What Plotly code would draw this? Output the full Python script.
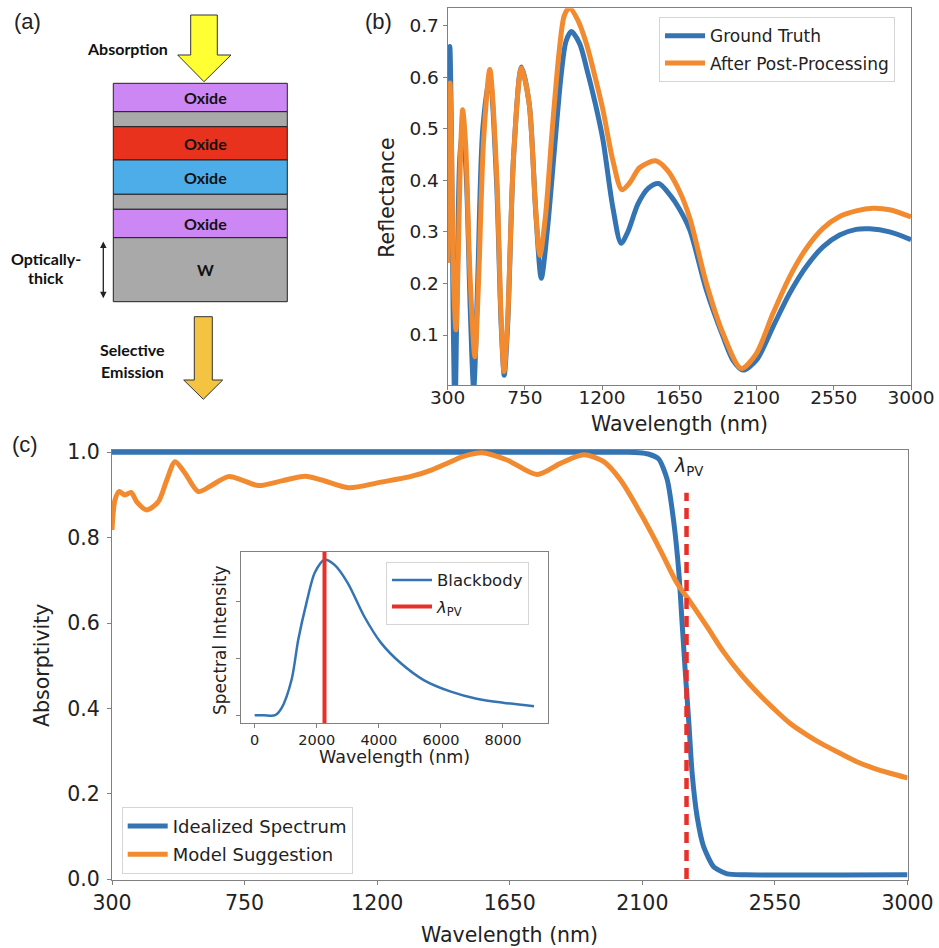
import plotly.graph_objects as go

W, H = 939, 948
def PX(x): return x / W
def PY(y): return 1 - y / H

# ---------------- data ----------------
# (b) reflectance
b_wl_gt = [300, 313, 322, 332, 343, 356, 372, 390, 410, 432, 452, 475, 505, 546, 585, 612, 630, 650, 685, 730,
           775, 815, 846, 880, 920, 960, 990, 1021, 1070, 1108, 1160, 1205, 1262, 1311, 1350, 1410, 1470,
           1530, 1600, 1650, 1711, 1808, 1905, 1963, 2021, 2099, 2196, 2293, 2390, 2487, 2584, 2681, 2759,
           2875, 3000]
b_gt = [0.50, 0.66, 0.50, 0.15, -0.05, 0.20, 0.45, 0.50, 0.40, 0.15, -0.005, 0.20, 0.50, 0.60, 0.40, 0.12, 0.022,
        0.12, 0.45, 0.62, 0.55, 0.33, 0.21, 0.30, 0.45, 0.60, 0.67, 0.689, 0.665, 0.62, 0.55, 0.479, 0.349,
        0.278, 0.30, 0.355, 0.385, 0.394, 0.37, 0.345, 0.304, 0.187, 0.097, 0.051, 0.032, 0.051, 0.116, 0.181,
        0.233, 0.271, 0.294, 0.305, 0.306, 0.300, 0.285]
b_wl_pp = [300, 307, 314, 322, 335, 349, 362, 375, 388, 405, 430, 459, 480, 510, 546, 585, 612, 629, 650, 685,
           730, 775, 810, 838, 870, 910, 950, 980, 1010, 1060, 1108, 1160, 1205, 1262, 1315, 1360, 1420, 1512,
           1580, 1650, 1711, 1808, 1905, 2011, 2099, 2196, 2293, 2390, 2487, 2584, 2681, 2778, 2875, 3000]
b_pp = [0.24, 0.45, 0.589, 0.48, 0.20, 0.11, 0.25, 0.45, 0.537, 0.47, 0.22, 0.058, 0.20, 0.48, 0.615, 0.42, 0.13,
        0.029, 0.13, 0.45, 0.618, 0.55, 0.36, 0.255, 0.33, 0.50, 0.65, 0.72, 0.735, 0.71, 0.666, 0.60, 0.537,
        0.44, 0.382, 0.395, 0.425, 0.438, 0.42, 0.38, 0.327, 0.200, 0.103, 0.035, 0.064, 0.142, 0.213, 0.268,
        0.307, 0.330, 0.341, 0.346, 0.343, 0.329]

# (c) absorptivity
c_wl_ideal = [300, 1000, 2050, 2090, 2120, 2156, 2184, 2207, 2224, 2235, 2246, 2258, 2269, 2286, 2308, 2342,
              2388, 2450, 3000]
c_ideal = [1.0, 1.0, 1.0, 0.999, 0.996, 0.984, 0.937, 0.835, 0.718, 0.600, 0.483, 0.365, 0.248, 0.146, 0.076,
           0.029, 0.012, 0.01, 0.01]
c_wl_model = [300, 310, 324, 344, 365, 384, 418, 457, 486, 514, 548, 593, 639, 695, 741, 797, 876, 956, 1012,
              1103, 1205, 1318, 1386, 1440, 1490, 1556, 1641, 1743, 1822, 1901, 1969, 2026, 2094, 2161, 2218,
              2262, 2319, 2375, 2432, 2488, 2545, 2601, 2658, 2714, 2771, 2828, 2884, 2941, 3000]
c_model = [0.818, 0.888, 0.908, 0.900, 0.906, 0.884, 0.865, 0.884, 0.935, 0.978, 0.951, 0.908, 0.923, 0.943,
           0.935, 0.922, 0.933, 0.944, 0.935, 0.917, 0.929, 0.944, 0.959, 0.975, 0.990, 0.999, 0.982, 0.948,
           0.974, 0.994, 0.978, 0.935, 0.857, 0.771, 0.693, 0.650, 0.592, 0.533, 0.482, 0.439, 0.400, 0.365,
           0.338, 0.315, 0.295, 0.275, 0.260, 0.248, 0.237]
lambda_pv = 2250
lambda_pv_top = 0.905

# inset blackbody (arbitrary units)
bb_wl = [0, 300, 658, 871, 1191, 1404, 1669, 1935, 2254, 2573, 3000, 3531, 4064, 4702, 5446, 6298, 7150, 8000, 9000]
bb_val = [0, 0, 0, 0.13, 0.63, 1.33, 1.98, 2.51, 2.74, 2.65, 2.33, 1.74, 1.28, 0.92, 0.62, 0.42, 0.29, 0.22, 0.16]

# (a) layer stack
layer_labels = ["Oxide", "", "Oxide", "Oxide", "", "Oxide", "W"]
layer_colors = ["#CD87F5", "#A9A9A9", "#E8321E", "#4DADE8", "#A9A9A9", "#CD87F5", "#A9A9A9"]
layer_thick = [28.4, 15, 33.3, 34.3, 15, 28.4, 64]

BLUE = "#3474b3"
ORANGE = "#f28a30"
RED = "#e8302a"
AX = "#808080"
TXT = "#222222"
FONT = "DejaVu Sans"
LPV = "<i>λ</i><sub>PV</sub>"

fig = go.Figure()

# ---------------- panel (b) ----------------
fig.add_trace(go.Scatter(x=b_wl_gt, y=b_gt, mode="lines", name="Ground Truth",
                         line=dict(color=BLUE, width=5, shape="spline", smoothing=0.8),
                         xaxis="x", yaxis="y", legend="legend", legendgroup="g1"))
fig.add_trace(go.Scatter(x=b_wl_pp, y=b_pp, mode="lines", name="After Post-Processing",
                         line=dict(color=ORANGE, width=5, shape="spline", smoothing=0.8),
                         xaxis="x", yaxis="y", legend="legend", legendgroup="g2"))

# ---------------- panel (c) ----------------
fig.add_trace(go.Scatter(x=c_wl_ideal, y=c_ideal, mode="lines", name="Idealized Spectrum",
                         line=dict(color=BLUE, width=5, shape="spline", smoothing=0.6),
                         xaxis="x2", yaxis="y2", legend="legend2", legendgroup="g3"))
fig.add_trace(go.Scatter(x=c_wl_model, y=c_model, mode="lines", name="Model Suggestion",
                         line=dict(color=ORANGE, width=5, shape="spline", smoothing=0.8),
                         xaxis="x2", yaxis="y2", legend="legend2", legendgroup="g4"))
fig.add_trace(go.Scatter(x=[lambda_pv, lambda_pv], y=[0, lambda_pv_top], mode="lines", showlegend=False,
                         line=dict(color=RED, width=4.5, dash="11px,7px"),
                         xaxis="x2", yaxis="y2"))

# ---------------- inset ----------------
fig.add_trace(go.Scatter(x=bb_wl, y=bb_val, mode="lines", name="Blackbody",
                         line=dict(color=BLUE, width=2.5, shape="spline", smoothing=0.8),
                         xaxis="x3", yaxis="y3", legend="legend3", legendgroup="g5"))
fig.add_trace(go.Scatter(x=[lambda_pv, lambda_pv], y=[-0.137, 2.877], mode="lines", name=LPV,
                         line=dict(color=RED, width=4),
                         xaxis="x3", yaxis="y3", legend="legend3", legendgroup="g6"))

# ---------------- panel (a) diagram ----------------
shapes = []
y0 = 83.3
for lab, col, th in zip(layer_labels, layer_colors, layer_thick):
    shapes.append(dict(type="rect", xref="x4", yref="y4", x0=113.3, x1=287.3, y0=y0, y1=y0 + th,
                       fillcolor=col, line=dict(color="#222", width=1), layer="above"))
    y0 += th

shapes.append(dict(type="path", xref="x4", yref="y4", layer="above",
                   path="M190.7,15 L217.3,15 L217.3,55 L231,55 L204,81.7 L177.7,55 L190.7,55 Z",
                   fillcolor="#FFFF33", line=dict(color="#333", width=1)))
shapes.append(dict(type="path", xref="x4", yref="y4", layer="above",
                   path="M194.3,316.7 L212.3,316.7 L212.3,380 L222.7,380 L203.3,399.3 L183.7,380 L194.3,380 Z",
                   fillcolor="#F5C342", line=dict(color="#333", width=1)))

annotations = []
y0 = 83.3
for lab, th in zip(layer_labels, layer_thick):
    if lab:
        annotations.append(dict(x=205.7, y=y0 + th / 2, xref="x4", yref="y4", text="<b>%s</b>" % lab,
                                xanchor="center", yanchor="middle",
                                showarrow=False, font=dict(family="Lato", size=16, color="#111")))
    y0 += th

for t, x, y in [("<b>Absorption</b>", 127, 48), ("<b>Optically-</b>", 46, 258), ("<b>thick</b>", 46, 277),
                ("<b>Selective</b>", 132.3, 349.5), ("<b>Emission</b>", 132.3, 371)]:
    annotations.append(dict(x=x, y=y, xref="x4", yref="y4", text=t, showarrow=False,
                            xanchor="center", yanchor="middle",
                            font=dict(family="Lato", size=16, color="#111")))

annotations.append(dict(x=103.3, y=298.3, ax=103.3, ay=240, xref="x4", yref="y4", axref="x4", ayref="y4",
                        text="", showarrow=True, arrowhead=2, arrowside="end+start", arrowsize=1,
                        arrowwidth=1.3, arrowcolor="#222"))

# panel labels
for t, x, y in [("(a)", 27, 21), ("(b)", 378, 21), ("(c)", 25, 444)]:
    annotations.append(dict(x=PX(x), y=PY(y), xref="paper", yref="paper", text=t, showarrow=False,
                            xanchor="center", yanchor="middle",
                            font=dict(family="Liberation Sans", size=22, color=TXT)))

# axis titles
def title(t, x, y, size, angle=0):
    annotations.append(dict(x=PX(x), y=PY(y), xref="paper", yref="paper", text=t, showarrow=False,
                            xanchor="center", yanchor="middle",
                            textangle=angle, font=dict(family=FONT, size=size, color=TXT)))

title("Reflectance", 386.7, 198, 20.5, -90)
title("Wavelength (nm)", 679, 424, 20.5)
title("Absorptivity", 42, 666, 20.5, -90)
title("Wavelength (nm)", 510, 935, 20.5)
title("Spectral Intensity", 220, 640, 17, -90)
title("Wavelength (nm)", 394, 757, 17.5)

annotations.append(dict(x=lambda_pv, y=1.0, xref="x2", yref="y2", yshift=-14, xshift=2,
                        xanchor="center", yanchor="middle",
                        text=LPV, showarrow=False,
                        font=dict(family=FONT, size=19, color=TXT)))

common_axis = dict(showline=True, linecolor=AX, linewidth=1, mirror=True, ticks="outside", ticklen=4,
                   tickcolor=AX, showgrid=False, zeroline=False, automargin=False,
                   tickfont=dict(family=FONT, color=TXT))

wl_ticks = [300, 750, 1200, 1650, 2100, 2550, 3000]

legend_common = dict(bgcolor="rgba(255,255,255,0.85)", bordercolor="#d5d5d5", borderwidth=1,
                     xanchor="left", yanchor="top", tracegroupgap=2, itemwidth=40)

fig.update_layout(
    width=W, height=H, margin=dict(l=0, r=0, t=0, b=0, pad=0, autoexpand=False),
    paper_bgcolor="white", plot_bgcolor="white",
    showlegend=True,
    xaxis=dict(domain=[PX(447.6), PX(911)], range=[300, 3000], tickvals=wl_ticks, anchor="y",
               ticklabelstandoff=-8,
               **{**common_axis, "tickfont": dict(family=FONT, size=18.5, color=TXT)}),
    yaxis=dict(domain=[PY(385), PY(8.3)], range=[0.003, 0.734], tickvals=[0.1, 0.2, 0.3, 0.4, 0.5, 0.6, 0.7],
               ticktext=["0.1", "0.2", "0.3", "0.4", "0.5", "0.6", "0.7"], anchor="x",
               **{**common_axis, "tickfont": dict(family=FONT, size=18.5, color=TXT)}),
    xaxis2=dict(domain=[PX(112), PX(907.5)], range=[300, 3000], tickvals=wl_ticks, anchor="y2",
                ticklabelstandoff=1,
                **{**common_axis, "tickfont": dict(family=FONT, size=20.5, color=TXT)}),
    yaxis2=dict(domain=[PY(879.5), PY(450)], range=[-0.001, 1.0054], tickvals=[0, 0.2, 0.4, 0.6, 0.8, 1.0],
                ticktext=["0.0", "0.2", "0.4", "0.6", "0.8", "1.0"], anchor="x2", ticklabelstandoff=3,
                **{**common_axis, "tickfont": dict(family=FONT, size=20.5, color=TXT)}),
    xaxis3=dict(domain=[PX(240.7), PX(548)], range=[-450, 9450], tickvals=[0, 2000, 4000, 6000, 8000],
                anchor="y3", **{**common_axis, "tickfont": dict(family=FONT, size=14.5, color=TXT)}),
    yaxis3=dict(domain=[PY(723), PY(552)], range=[-0.137, 2.877], tickvals=[0, 1, 2], showticklabels=False,
                anchor="x3", **common_axis),
    xaxis4=dict(domain=[0, PX(330)], range=[0, 330], visible=False, anchor="y4"),
    yaxis4=dict(domain=[PY(410), 1], range=[410, 0], visible=False, anchor="x4"),
    legend=dict(x=PX(659), y=PY(17.3), font=dict(family=FONT, size=17, color=TXT), **legend_common),
    legend2=dict(x=PX(121.7), y=PY(806.7), font=dict(family=FONT, size=18, color=TXT), **legend_common),
    legend3=dict(x=PX(386), y=PY(561.7), font=dict(family=FONT, size=16.5, color=TXT), **legend_common),
    shapes=shapes, annotations=annotations,
)

fig.write_html("out.html")
